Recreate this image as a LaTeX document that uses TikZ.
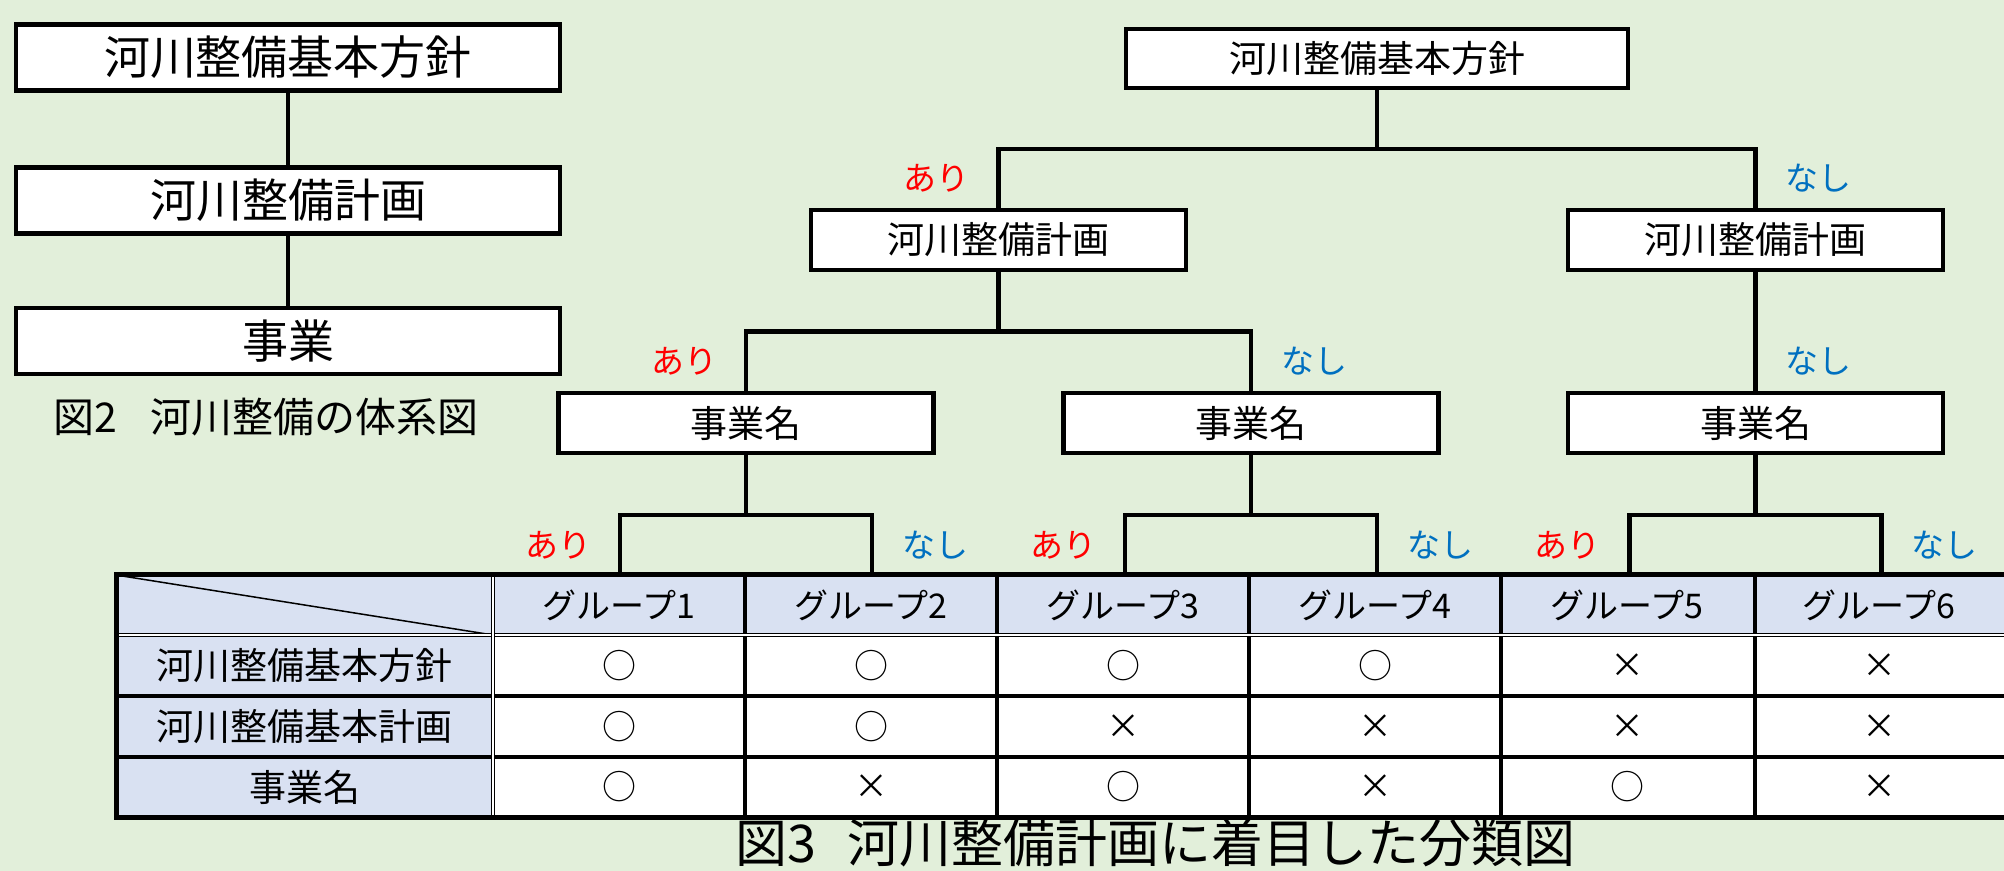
\documentclass[tikz,border=0pt]{standalone}
\usepackage{fontspec}
\setmainfont{Noto Sans CJK JP}
\usetikzlibrary{positioning,calc}
\definecolor{bg}{RGB}{226,239,218}
\definecolor{hdr}{RGB}{217,225,242}
\definecolor{aricol}{RGB}{255,0,0}
\definecolor{nashicol}{RGB}{0,112,192}
\tikzset{
  box/.style={draw, fill=white, line width=2.4pt, inner sep=0pt},
  lbox/.style={box, minimum width=272pt, minimum height=33pt, font=\fontsize{23pt}{24pt}\selectfont},
  branch/.style={box, minimum width=187.5pt, minimum height=30pt, font=\fontsize{18.5pt}{20pt}\selectfont},
  tip/.style={inner sep=0pt, minimum size=0pt},
  ari/.style={text=aricol, font=\fontsize{16.5pt}{18pt}\selectfont, pos=0.75, xshift=-31pt},
  nashi/.style={text=nashicol, font=\fontsize{16.5pt}{18pt}\selectfont, pos=0.75, xshift=31.5pt},
  conn/.style={line width=2.3pt},
  grid/.style={line width=1.6pt},
  dbl/.style={double=white, double distance=0.8pt, line width=0.8pt},
  hd/.style={font=\fontsize{17pt}{18pt}\selectfont},
  rw/.style={font=\fontsize{18.5pt}{20pt}\selectfont},
  mk/.style={font=\fontsize{17pt}{18pt}\selectfont}
}
\begin{document}
\begin{tikzpicture}
  [x=0.5pt, y=-0.5pt,
   edge from parent/.style={draw, line width=2.4pt},
   edge from parent path={(\tikzparentnode.south) |- ($(\tikzparentnode.south)!0.5!(\tikzchildnode.north)$) -| (\tikzchildnode.north)},
   level 1/.style={sibling distance=378.5pt, level distance=90.75pt},
   level 2/.style={sibling distance=252.5pt, level distance=91.5pt},
   level 3/.style={sibling distance=126pt, level distance=76pt}]
  \useasboundingbox (0,0) rectangle (2004,871);
  \clip (0,0) rectangle (2004,871);
  \fill[bg] (0,0) rectangle (2004,871);
  %\draw [help lines] (0,0) grid (2004,871);

  % fig 2
  \node[lbox] (k1) at (288,57.5) {河川整備基本方針};
  \node[lbox, below=36pt of k1] (k2) {河川整備計画};
  \node[lbox, below=35pt of k2] (k3) {事業};
  \draw[conn] (k1) -- (k2);
  \draw[conn] (k2) -- (k3);
  \node[font=\fontsize{20.5pt}{22pt}\selectfont] (cap2) at (266,417) {図2\hspace{0.8em}河川整備の体系図};

  % table
  \fill[hdr] (116,575) rectangle (2010,635);
  \fill[hdr] (116,635) rectangle (493,817);
  \fill[white] (493,635) rectangle (2010,817);
  \draw[line width=0.75pt] (116,575) -- (493,635);
  \foreach \y in {696,757} \draw[grid] (116,\y) -- (2010,\y);
  \foreach \x in {745,997,1249,1501,1755} \draw[grid] (\x,575) -- (\x,817);
  \draw[dbl] (116,635) -- (2010,635);
  \draw[dbl] (493,575) -- (493,817);
  \draw[line width=2.5pt] (116,575) rectangle (2010,817);
  \foreach \i in {1,...,6}
    \node[hd] (h\i) at ({493+252*(\i-0.5)},605) {グループ\i};
  \node[rw] (r1) at (304.5,665.5) {河川整備基本方針};
  \node[rw] (r2) at (304.5,726.5) {河川整備基本計画};
  \node[rw] (r3) at (304.5,787) {事業名};
  \foreach \marks/\y [count=\r] in {{○,○,○,○,×,×}/665.5,{○,○,×,×,×,×}/726.5,{○,×,○,×,○,×}/787}
    \foreach \m [count=\c] in \marks
      \node[mk] (m\r\c) at ({493+252*(\c-0.5)},\y) {\m};

  % fig 3 tree
  \node[box, minimum width=251pt, minimum height=29.5pt, font=\fontsize{18.5pt}{20pt}\selectfont] (root) at (1377,58.5) {河川整備基本方針}
    child {node[branch] (plan1) {河川整備計画}
      child {node[branch] (proj1) {事業名}
        child {node[tip] (g1) {} edge from parent node[ari] (a3) {あり}}
        child {node[tip] (g2) {} edge from parent node[nashi] (n3) {なし}}
        edge from parent node[ari] (a2) {あり}}
      child {node[branch] (proj2) {事業名}
        child {node[tip] (g3) {} edge from parent node[ari] (a4) {あり}}
        child {node[tip] (g4) {} edge from parent node[nashi] (n4) {なし}}
        edge from parent node[nashi] (n2) {なし}}
      edge from parent node[ari] (a1) {あり}}
    child {node[branch] (plan2) {河川整備計画}
      child {node[branch] (proj3) {事業名}
        child {node[tip] (g5) {} edge from parent node[ari] (a5) {あり}}
        child {node[tip] (g6) {} edge from parent node[nashi] (n6) {なし}}
        edge from parent node[nashi] (n5) {なし}}
      edge from parent node[nashi] (n1) {なし}};

  \node[anchor=west, inner sep=0pt, font=\fontsize{26pt}{28pt}\selectfont] (cap3) at (735,843) {図3\hspace{0.6em}河川整備計画に着目した分類図};
\end{tikzpicture}
\end{document}
